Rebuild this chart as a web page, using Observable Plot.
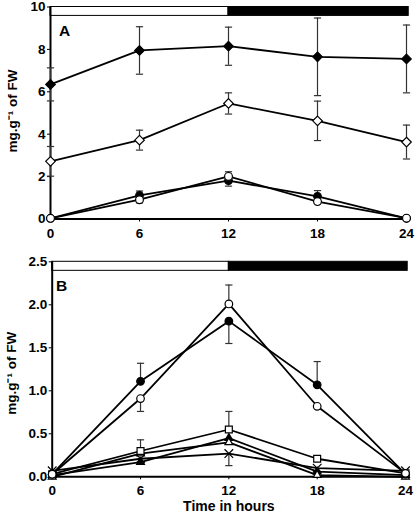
<!DOCTYPE html>
<html>
<head>
<meta charset="utf-8">
<script src="https://cdn.jsdelivr.net/npm/d3@7"></script>
<script src="https://cdn.jsdelivr.net/npm/@observablehq/plot@0.6"></script>
<style>
  html, body { margin: 0; padding: 0; background: #fff; }
  #chart { width: 415px; height: 518px; }
  #chart svg { display: block; }
</style>
</head>
<body>
<div id="chart"></div>
<script>
// ---- data ----
const hours = [0, 6, 12, 18, 24];
const xTicks = [0, 6, 12, 18, 24];
const aYTicks = [0, 2, 4, 6, 8, 10];
const bYTicks = [0, 0.5, 1.0, 1.5, 2.0, 2.5];
const phaseStart = [0, 12];
const phaseEnd = [12, 24.15];
const phaseColor = ["white", "black"];

// Panel A
const aFilledDiamond = [6.35, 7.95, 8.15, 7.65, 7.55];
const aFilledDiamondErr = [0.78, 1.12, 0.9, 1.83, 1.6];
const aOpenDiamond = [2.72, 3.72, 5.45, 4.63, 3.63];
const aOpenDiamondErr = [0.7, 0.47, 0.5, 0.93, 0.8];

// Shared by A and B
const filledCircle = [0.03, 1.11, 1.81, 1.07, 0.03];
const filledCircleErrUp = [0, 0.21, 0, 0.27, 0];
const filledCircleErrDown = [0, 0, 0.26, 0, 0];
const openCircle = [0.03, 0.91, 2.01, 0.82, 0.04];
const openCircleErrUp = [0, 0, 0.22, 0, 0];
const openCircleErrDown = [0, 0.15, 0, 0, 0];

// Panel B only
const openSquare = [0.03, 0.30, 0.55, 0.21, 0.04];
const openSquareErrUp = [0, 0.13, 0.21, 0, 0];
const filledTriangle = [0.02, 0.17, 0.45, 0.06, 0.02];
const openTriangle = [0.0, 0.27, 0.40, 0.02, 0.0];
const crossMark = [0.07, 0.21, 0.27, 0.10, 0.07];
const crossErrDown = [0, 0, 0.14, 0, 0];

// ---- helpers ----
const zeros = hours.map(() => 0);
function makeSeries(name, values, up, down, symbol, fill, r) {
  return {
    name, symbol, fill, r,
    rows: hours.map((t, i) => ({ name, t, v: values[i], up: (up || zeros)[i], down: (down || zeros)[i] }))
  };
}
const phases = phaseStart.map((s, i) => ({ start: s, end: phaseEnd[i], color: phaseColor[i] }));
const capSymbol = {
  draw(context, size) {
    const w = Math.sqrt(size / Math.PI);
    context.moveTo(-w, 0);
    context.lineTo(w, 0);
  }
};
const font = "'Liberation Sans', Arial, Helvetica, sans-serif";

function panel({ series, yMax, yTicks, yFormat, letter, letterDx, letterDy, xlabel, layout }) {
  const all = series.flatMap(s => s.rows);
  const errRows = all.filter(d => d.up > 0 || d.down > 0);
  const capRows = [
    ...all.filter(d => d.up > 0).map(d => ({ t: d.t, y: d.v + d.up })),
    ...all.filter(d => d.down > 0).map(d => ({ t: d.t, y: d.v - d.down }))
  ];
  const barH = yMax * 0.042;
  const marks = [
    ...phases.map(p => Plot.rect([p], { x1: "start", x2: "end", y1: () => yMax - barH, y2: () => yMax, fill: p.color, stroke: "black", strokeWidth: 1 })),
    Plot.ruleX([0], { stroke: "black", strokeWidth: 2 }),
    Plot.ruleY([0], { stroke: "black", strokeWidth: 2 }),
    Plot.ruleX(errRows, { x: "t", y1: d => d.v - d.down, y2: d => d.v + d.up, stroke: "#333", strokeWidth: 1.2 }),
    Plot.dot(capRows, { x: "t", y: "y", symbol: capSymbol, r: 3.6, fill: "none", stroke: "#333", strokeWidth: 1.2 }),
    Plot.line(all, { x: "t", y: "v", z: "name", stroke: "black", strokeWidth: 1.8 }),
    ...series.map(s => Plot.dot(s.rows, { x: "t", y: "v", symbol: s.symbol, r: s.r, fill: s.fill, stroke: "black", strokeWidth: 1.2 })),
    Plot.text([letter], { frameAnchor: "top-left", dx: letterDx, dy: letterDy, fontSize: 15.5, fontWeight: "bold", textAnchor: "middle" }),
    Plot.text(["mg.g⁻¹ of FW"], { frameAnchor: "left", dx: layout.yLabelX - layout.marginLeft, dy: layout.yLabelDy, rotate: -90, fontSize: 13.5, fontWeight: "bold", textAnchor: "middle" })
  ];
  if (xlabel) {
    marks.push(Plot.text([xlabel], { frameAnchor: "bottom", dy: 34, fontSize: 14, fontWeight: "bold", textAnchor: "middle" }));
  }
  return Plot.plot({
    width: 415,
    height: layout.height,
    marginTop: layout.marginTop,
    marginBottom: layout.marginBottom,
    marginLeft: layout.marginLeft,
    marginRight: layout.marginRight,
    style: { fontFamily: font, fontSize: "13.5px", fontWeight: "bold", color: "black", background: "white", overflow: "visible" },
    x: { domain: [0, 24], ticks: xTicks, tickSize: 3, tickPadding: 6, label: null, tickFormat: d => String(d) },
    y: { domain: [0, yMax], ticks: yTicks, tickSize: 3, tickPadding: 2, label: null, tickFormat: yFormat },
    marks
  });
}

const panelA = panel({
  series: [
    makeSeries("aFilledDiamond", aFilledDiamond, aFilledDiamondErr, aFilledDiamondErr, "diamond2", "black", 4.3),
    makeSeries("aOpenDiamond", aOpenDiamond, aOpenDiamondErr, aOpenDiamondErr, "diamond2", "white", 4.3),
    makeSeries("filledCircle", filledCircle, filledCircleErrUp, filledCircleErrDown, "circle", "black", 3.8),
    makeSeries("openCircle", openCircle, openCircleErrUp, openCircleErrDown, "circle", "white", 3.9)
  ],
  yMax: 10, yTicks: aYTicks, yFormat: d3.format("d"),
  letter: "A", letterDx: 14, letterDy: 18, xlabel: null,
  layout: { height: 250, marginTop: 6.5, marginBottom: 31.5, marginLeft: 50, marginRight: 9, yLabelX: 12.5, yLabelDy: -2 }
});

const panelB = panel({
  series: [
    makeSeries("filledTriangle", filledTriangle, null, null, "triangle", "black", 2.9),
    makeSeries("openTriangle", openTriangle, null, null, "triangle", "white", 2.9),
    makeSeries("crossMark", crossMark, null, crossErrDown, "times", "none", 4),
    makeSeries("openSquare", openSquare, openSquareErrUp, null, "square", "white", 3.9),
    makeSeries("filledCircle", filledCircle, filledCircleErrUp, filledCircleErrDown, "circle", "black", 3.8),
    makeSeries("openCircle", openCircle, openCircleErrUp, openCircleErrDown, "circle", "white", 3.8)
  ],
  yMax: 2.5, yTicks: bYTicks, yFormat: d3.format(".1f"),
  letter: "B", letterDx: 9.5, letterDy: 18, xlabel: "Time in hours",
  layout: { height: 268, marginTop: 11.3, marginBottom: 41.7, marginLeft: 51.7, marginRight: 10, yLabelX: 11, yLabelDy: 4 }
});

const chart = document.getElementById("chart");
chart.appendChild(panelA);
chart.appendChild(panelB);
</script>
</body>
</html>
